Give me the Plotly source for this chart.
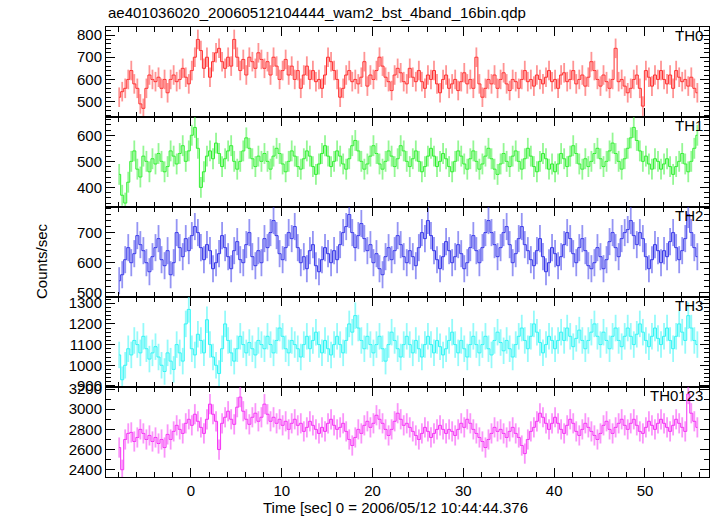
import plotly.graph_objects as go
from plotly.subplots import make_subplots

# ---------------- data ----------------
TIME_START = -7.9      # sec, centre of first bin
BIN_SEC = 1.0 / 3.0    # bin width in seconds

TH0 = [
    520, 545, 560, 600, 640, 580, 560, 490, 470, 560, 620, 600,
    590, 610, 560, 600, 540, 600, 620, 590, 600, 650, 610, 580,
    640, 700, 780, 730, 650, 700, 610, 680, 720, 740, 680, 650,
    700, 660, 780, 700, 640, 690, 620, 700, 680, 650, 720, 690,
    650, 680, 620, 700, 660, 600, 640, 690, 620, 660, 600, 640,
    560, 620, 660, 600, 640, 590, 600, 560, 620, 700, 680, 640,
    600, 520, 560, 620, 640, 590, 600, 580, 610, 680, 570, 620,
    600, 640, 700, 660, 610, 590, 550, 620, 650, 630, 590, 580,
    650, 610, 590, 640, 590, 560, 620, 600, 640, 580, 540, 600,
    620, 560, 580, 600, 550, 590, 630, 580, 600, 560, 700, 580,
    520, 560, 600, 580, 620, 560, 600, 630, 580, 550, 600, 590,
    560, 600, 640, 590, 600, 570, 620, 600, 580, 610, 640, 590,
    600, 560, 620, 630, 590, 600, 640, 580, 600, 620, 570, 610,
    680, 640, 600, 570, 620, 590, 560, 600, 740, 590, 600, 570,
    540, 560, 600, 620, 560, 480, 640, 610, 570, 620, 600, 640,
    600, 580, 620, 560, 640, 610, 590, 600, 570, 610, 560, 540,
]

TH1 = [
    450, 370, 340, 420, 500, 540, 470, 440, 520, 500, 460, 510,
    490, 530, 500, 460, 480, 540, 520, 490, 530, 560, 500, 540,
    600, 630, 550, 400, 460, 520, 540, 510, 570, 530, 480, 510,
    540, 560, 500, 470, 500, 540, 590, 550, 510, 480, 520, 500,
    530, 500, 470, 520, 550, 530, 490, 460, 500, 540, 520, 480,
    470, 510, 540, 520, 480, 450, 490, 530, 560, 520, 480, 500,
    540, 520, 490, 470, 510, 560, 580, 540, 500, 470, 490, 520,
    560, 530, 490, 470, 500, 540, 520, 480, 510, 560, 540, 500,
    480, 510, 540, 500, 460, 480, 520, 550, 520, 480, 500, 530,
    510, 480, 460, 500, 540, 520, 490, 470, 510, 540, 500, 470,
    490, 520, 550, 510, 470, 450, 490, 530, 500, 480, 520, 540,
    500, 470, 510, 550, 520, 480, 460, 500, 530, 510, 470, 490,
    460, 490, 530, 510, 480, 520, 560, 530, 490, 470, 510, 480,
    500, 530, 550, 510, 480, 500, 540, 570, 530, 500, 470, 510,
    550, 590, 630, 580, 540, 500, 520, 490, 470, 510, 500, 470,
    490, 510, 480, 450, 480, 500, 530, 490, 460, 500, 550, 600,
]

TH2 = [
    540, 560, 610, 650, 600, 630, 690, 660, 640, 600, 570, 620,
    650, 680, 610, 590, 640, 560, 600, 700, 650, 620, 680, 640,
    690, 720, 700, 650, 610, 660, 640, 580, 600, 630, 690, 650,
    620, 580, 640, 670, 610, 600, 660, 700, 620, 590, 640, 600,
    680, 650, 700, 740, 690, 630, 610, 650, 700, 680, 720, 650,
    600, 620, 580, 640, 660, 590, 570, 610, 650, 630, 600, 640,
    610, 660, 700, 720, 760, 700, 650, 690, 730, 680, 640, 660,
    600, 630, 580, 560, 620, 650, 610, 640, 690, 660, 620, 600,
    640, 620, 590, 650, 700, 680, 740, 690, 640, 610, 580, 620,
    670, 640, 600, 620, 660, 630, 580, 600, 650, 690, 640, 600,
    650, 700, 740, 700, 660, 620, 650, 700, 720, 660, 600, 630,
    680, 720, 660, 640, 610, 590, 640, 680, 620, 570, 600, 650,
    630, 590, 620, 660, 700, 680, 630, 600, 650, 680, 640, 590,
    580, 600, 650, 620, 580, 610, 670, 700, 650, 620, 680, 700,
    710, 740, 690, 660, 700, 680, 620, 580, 610, 660, 640, 600,
    640, 620, 670, 700, 650, 610, 640, 680, 760, 700, 650, 620,
]

TH3 = [
    1050, 930, 1000, 1080, 1050, 1120, 1100, 1060, 1140, 1080, 1030, 1060,
    1090, 1040, 1000, 970, 1060, 1020, 980, 1100, 1060, 1020, 1200, 1270,
    1080, 1050, 1150, 1120, 1060, 1220, 1100, 1040, 1000, 960, 1080, 1200,
    1120, 1060, 1020, 1080, 1140, 1100, 1060, 1110, 1080, 1050, 1120, 1100,
    1080, 1140, 1100, 1060, 1120, 1180, 1140, 1080, 1060, 1120, 1100, 1080,
    1040, 1100, 1140, 1080, 1120, 1160, 1100, 1060, 1120, 1080, 1050, 1100,
    1140, 1100, 1060, 1120, 1200, 1160, 1240, 1180, 1120, 1080, 1140, 1100,
    1060, 1100, 1140, 1080, 1020, 1100, 1160, 1120, 1080, 1040, 1100, 1140,
    1100, 1060, 1120, 1080, 1040, 1100, 1140, 1100, 1060, 1120, 1090, 1050,
    1080, 1120, 1160, 1100, 1060, 1120, 1080, 1040, 1100, 1140, 1100, 1060,
    1100, 1140, 1080, 1050, 1120, 1160, 1110, 1070, 1120, 1080, 1040, 1100,
    1140, 1180, 1120, 1080, 1140, 1200, 1160, 1110, 1060, 1100, 1140, 1120,
    1080, 1120, 1160, 1120, 1180, 1140, 1090, 1130, 1170, 1120, 1080, 1120,
    1160, 1200, 1140, 1100, 1160, 1120, 1080, 1140, 1180, 1120, 1090, 1140,
    1180, 1140, 1100, 1150, 1200, 1160, 1120, 1090, 1140, 1180, 1130, 1100,
    1140, 1180, 1120, 1080, 1140, 1200, 1160, 1120, 1240, 1180, 1120, 1100,
]

TH0123 = [
    2620, 2400, 2700, 2760, 2770, 2680, 2720, 2800, 2760, 2700, 2740, 2680,
    2720, 2660, 2700, 2620, 2750, 2700, 2780, 2840, 2800, 2760, 2860, 2900,
    2840, 2950, 2880, 2820, 2760, 2900, 3050, 2950, 2880, 2600, 2860, 2920,
    2980, 2900, 2850, 3020, 3120, 2980, 2900, 2850, 2920, 2960, 2880, 2920,
    3050, 2950, 2880, 2920, 2860, 2900, 2840, 2880, 2800, 2860, 2900, 2840,
    2860, 2780, 2820, 2880, 2840, 2800, 2760, 2820, 2780, 2860, 2900, 2840,
    2800, 2820, 2860, 2780, 2700, 2640, 2720, 2800, 2760, 2840, 2880, 2820,
    2860, 2940, 2900, 2860, 2800, 2740, 2800, 2880, 2960, 2900, 2840, 2860,
    2820, 2780, 2740, 2700, 2760, 2820, 2780, 2720, 2760, 2800, 2840, 2800,
    2760, 2800, 2780, 2740, 2800, 2860, 2820, 2900, 2860, 2800, 2760, 2720,
    2680, 2620, 2700, 2760, 2820, 2780, 2800, 2760, 2720, 2780, 2820, 2760,
    2720, 2640, 2560, 2700, 2780, 2820, 2880, 2960, 2920, 2860, 2800, 2860,
    2920, 2860, 2800, 2760, 2840, 2900, 2860, 2780, 2740, 2800, 2860, 2820,
    2780, 2740, 2700, 2760, 2840, 2880, 2800, 2760, 2820, 2860, 2900, 2840,
    2800, 2860, 2900, 2840, 2780, 2760, 2820, 2880, 2840, 2800, 2860, 2900,
    2860, 2820, 2780, 2840, 2900, 2860, 2820, 2780, 3150, 2960, 2880, 2820,
]

BANDS = ["TH0", "TH1", "TH2", "TH3", "TH0123"]
SERIES = [TH0, TH1, TH2, TH3, TH0123]
ERRORS = [44, 40, 45, 64, 100]
COLORS = ["#ff2e2e", "#2ef02e", "#3535e8", "#2ef5f5", "#f530f5"]
ERR_COLORS = ["rgba(255,60,60,0.55)", "rgba(60,240,60,0.55)", "rgba(60,60,235,0.55)",
              "rgba(60,245,245,0.55)", "rgba(245,60,245,0.55)"]
Y_RANGES = [[431, 836], [325, 670], [486, 785], [895, 1330], [2328, 3220]]
Y_DTICK = [100, 100, 100, 100, 200]
Y_MINOR = [20, 20, 20, 20, 100]
X_RANGE = [-9.35, 57.05]

TITLE = "ae401036020_20060512104444_wam2_bst_4band_16bin.qdp"
X_TITLE = "Time [sec] 0 = 2006/05/12 10:44:44.376"
Y_TITLE = "Counts/sec"

FONT = "Liberation Sans, Arial, sans-serif"

# ---------------- figure ----------------
fig = make_subplots(rows=5, cols=1, shared_xaxes=True, vertical_spacing=0)

for i, (name, ys) in enumerate(zip(BANDS, SERIES)):
    t = [TIME_START + k * BIN_SEC for k in range(len(ys))]
    fig.add_trace(
        go.Scatter(
            x=t, y=ys, mode="lines", name=name,
            line=dict(color=COLORS[i], width=1, shape="hvh"),
            error_y=dict(type="constant", value=ERRORS[i], thickness=1.8,
                         width=0, color=ERR_COLORS[i]),
            showlegend=False,
        ),
        row=i + 1, col=1,
    )
    fig.add_annotation(
        text=name, xref=f"x{'' if i == 0 else i + 1} domain",
        yref=f"y{'' if i == 0 else i + 1} domain",
        x=1, y=1, xanchor="right", yanchor="top", xshift=-4, yshift=2,
        showarrow=False, font=dict(family=FONT, size=15, color="black"),
    )

axis_common = dict(
    showline=True, linecolor="black", linewidth=1, mirror="allticks",
    ticks="inside", tickcolor="black", tickwidth=1.2, showgrid=False,
    zeroline=False, automargin=False,
    tickfont=dict(family=FONT, size=15, color="black"),
)

for i in range(5):
    fig.update_yaxes(
        range=Y_RANGES[i], dtick=Y_DTICK[i], ticklen=9,
        minor=dict(ticks="inside", dtick=Y_MINOR[i], ticklen=5,
                   tickcolor="black", tickwidth=1),
        row=i + 1, col=1, **axis_common,
    )
    fig.update_xaxes(
        range=X_RANGE, dtick=10, tick0=0, ticklen=9,
        minor=dict(ticks="inside", dtick=2, ticklen=5,
                   tickcolor="black", tickwidth=1),
        row=i + 1, col=1, **axis_common,
    )

fig.add_annotation(
    text=TITLE, xref="paper", yref="paper", x=0, y=1, yshift=4,
    xanchor="left", yanchor="bottom", showarrow=False,
    font=dict(family=FONT, size=15, color="black"),
)
fig.add_annotation(
    text=X_TITLE, xref="paper", yref="paper", x=0.48, y=0, yshift=-20,
    xanchor="center", yanchor="top", showarrow=False,
    font=dict(family=FONT, size=15, color="black"),
)
fig.add_annotation(
    text=Y_TITLE, xref="paper", yref="paper", x=0, xshift=-65, y=0.48,
    xanchor="center", yanchor="middle", textangle=-90, showarrow=False,
    font=dict(family=FONT, size=15, color="black"),
)

fig.update_layout(
    width=717, height=516,
    margin=dict(l=106, r=8, t=27, b=39),
    plot_bgcolor="white", paper_bgcolor="white",
    showlegend=False,
)

fig.write_html("out.html", config={"displayModeBar": False},
               post_script="document.body.style.margin='0';document.body.style.overflow='hidden';")
